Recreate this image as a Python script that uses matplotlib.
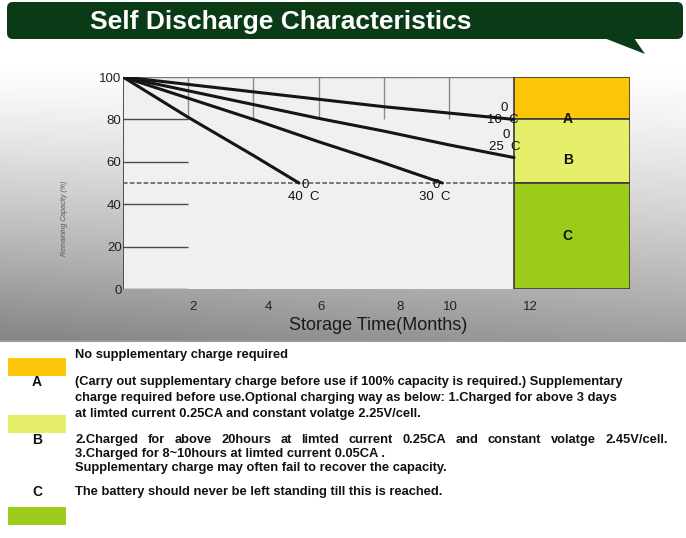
import matplotlib
matplotlib.use('Agg')
import numpy as np
import matplotlib.pyplot as plt
from matplotlib.patches import FancyBboxPatch, Polygon, Rectangle

plt.rcParams['font.family'] = ['Liberation Sans', 'DejaVu Sans']

# ---- data ----
curve_labels = ['10', '25', '30', '40']
months_10 = [0, 2, 4, 6, 8, 10, 12]
cap_10 = [100, 96.5, 93, 89.5, 86, 83, 80]
months_25 = [0, 2, 4, 6, 8, 10, 12]
cap_25 = [100, 93.5, 87, 80.5, 74.5, 68, 62]
months_30 = [0, 2, 4, 6, 8, 9.8]
cap_30 = [100, 90, 80, 69.5, 59.5, 50]
months_40 = [0, 2, 4, 5.4]
cap_40 = [100, 81, 63, 50]

zone_names = ['A', 'B', 'C']
zone_low = [80, 50, 0]
zone_high = [100, 80, 50]
zone_colors = ['#FCC608', '#E5EF6A', '#9BCB1B']

ytick_vals = [0, 20, 40, 60, 80, 100]
xtick_pos = [2.15, 4.45, 6.07, 8.5, 10.06, 12.5]
xtick_labels = ['2', '4', '6', '8', '10', '12']

legend_lines = [
    'No supplementary charge required',
    '(Carry out supplementary charge before use if 100% capacity is required.) Supplementary',
    'charge required before use.Optional charging way as below: 1.Charged for above 3 days',
    'at limted current 0.25CA and constant volatge 2.25V/cell.',
    '2.Charged for above 20hours at limted current 0.25CA and constant volatge 2.45V/cell.',
    '3.Charged for 8~10hours at limted current 0.05CA .',
    'Supplementary charge may often fail to recover the capacity.',
    'The battery should never be left standing till this is reached.',
]

W, H = 686, 538
fig = plt.figure(figsize=(W / 100, H / 100), dpi=100)
fig.patch.set_facecolor('white')

# background canvas in pixel coordinates
bg = fig.add_axes([0, 0, 1, 1])
bg.set_xlim(0, W)
bg.set_ylim(H, 0)
bg.axis('off')

# grey gradient behind the chart
ty = np.linspace(0, 1, 120)[:, None]
tx = np.linspace(0, 1, 200)[None, :]
grad = 1.0 - 0.38 * ty ** 1.3 - 0.10 * (1 - tx) * ty
bg.imshow(grad, extent=(0, W, 340, 62), cmap='gray', vmin=0, vmax=1,
          aspect='auto', zorder=0, interpolation='bilinear')
bg.plot([0, W], [341, 341], color='#9a9a9a', lw=1.5, zorder=1)

# title banner
banner = FancyBboxPatch((7, 2), 676, 37, boxstyle='round,pad=0,rounding_size=6',
                        facecolor='#0a3b16', edgecolor='none', zorder=2)
bg.add_patch(banner)
bg.add_patch(Polygon([(604, 38), (634, 38), (645, 54)], closed=True,
                     facecolor='#0a3b16', edgecolor='none', zorder=2))
bg.text(90, 22, 'Self Discharge Characteristics', color='white', fontsize=19,
        fontweight='bold', ha='left', va='center', zorder=3)

# ---- chart axes ----
x0, x1, y0, y1 = 123, 630, 77, 289
ax = fig.add_axes([x0 / W, 1 - y1 / H, (x1 - x0) / W, (y1 - y0) / H])
ax.set_xlim(0, 15.56)
ax.set_ylim(0, 100)
ax.patch.set_alpha(0)
for s in ax.spines.values():
    s.set_visible(False)

ax.add_patch(Rectangle((0, 0), 12, 100, facecolor='#f0f0f0', edgecolor='none', zorder=0))

# grid pieces
ax.vlines([2, 4, 6, 8, 10], 80, 100, color='#8a8a8a', lw=1, zorder=1)
ax.hlines([0, 20, 40, 60, 80], 0, 2, color='#4a4a4a', lw=1, zorder=1)
ax.hlines(100, 0, 12, color='#777777', lw=1, zorder=1)
ax.vlines(0, 0, 100, color='#333333', lw=1.2, zorder=1)
ax.hlines(50, 0, 12, color='#555555', lw=1.1, linestyles=(0, (3, 1.5)), zorder=1)

# zones
heights = [h - l for l, h in zip(zone_low, zone_high)]
ax.bar([12] * 3, heights, width=3.56, bottom=zone_low, align='edge',
       color=zone_colors, edgecolor='#3a3a3a', lw=1.2, zorder=2)
for name, yy in zip(zone_names, [80, 61, 25]):
    ax.text(13.65, yy, name, fontsize=10, fontweight='bold', ha='center',
            va='center', color='#111111', zorder=4)

# curves
for xs, ys in [(months_10, cap_10), (months_25, cap_25),
               (months_30, cap_30), (months_40, cap_40)]:
    ax.plot(xs, ys, color='#151515', lw=2.2, zorder=3, solid_capstyle='round')

# temperature labels
label_pos = {'10': (11.66, 79.7), '25': (11.72, 67.0),
             '30': (9.57, 43.4), '40': (5.55, 43.4)}
for t in curve_labels:
    lx, ly = label_pos[t]
    ax.text(lx, ly, t + '  C', fontsize=9.5, ha='center', va='center',
            color='#111111', zorder=4)
    ax.text(lx + 0.05, ly + 5.8, '0', fontsize=9.5, ha='center', va='center',
            color='#111111', zorder=4)

ax.set_yticks(ytick_vals)
ax.set_yticklabels([str(v) for v in ytick_vals])
ax.set_xticks(xtick_pos)
ax.set_xticklabels(xtick_labels)
ax.tick_params(axis='y', length=0, pad=1, labelsize=9.5, labelcolor='#222222')
ax.tick_params(axis='x', length=0, pad=9, labelsize=9.5, labelcolor='#222222')

bg.text(378, 326, 'Storage Time(Months)', fontsize=13, ha='center', va='center',
        color='#1a1a1a')
bg.text(64, 218, 'Remaining Capacity (%)', fontsize=5, rotation=90, ha='center',
        va='center', color='#555555', style='italic')

# ---- legend block ----
for col, ytop in zip(zone_colors, [358, 415, 507]):
    bg.add_patch(Rectangle((8, ytop), 58, 18, facecolor=col, edgecolor='none'))
for name, yy in zip(zone_names, [382, 440, 492]):
    bg.text(37, yy, name, fontsize=10, fontweight='bold', ha='center', va='center',
            color='#111111')

line_y = [355, 382, 398, 414, 440, 454, 468, 492]
fs = 9.3
renderer = fig.canvas.get_renderer()
for i, (txt, yy) in enumerate(zip(legend_lines, line_y)):
    if i == 4:
        # justified line
        words = txt.split(' ')
        objs = [bg.text(0, yy, w, fontsize=fs, fontweight='bold', ha='left',
                        va='center', color='#111111') for w in words]
        inv = bg.transData.inverted()
        widths = []
        for o in objs:
            bb = o.get_window_extent(renderer)
            p0 = inv.transform((bb.x0, bb.y0))
            p1 = inv.transform((bb.x1, bb.y0))
            widths.append(p1[0] - p0[0])
        gap = (668 - 75 - sum(widths)) / (len(words) - 1)
        xx = 75
        for o, wdt in zip(objs, widths):
            o.set_x(xx)
            xx += wdt + gap
    else:
        bg.text(75, yy, txt, fontsize=fs, fontweight='bold', ha='left',
                va='center', color='#111111')

fig.savefig('out.png', dpi=100, facecolor='white')
